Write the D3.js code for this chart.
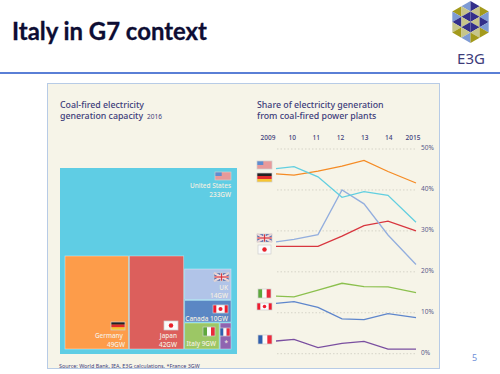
<!DOCTYPE html>
<html>
<head>
<meta charset="utf-8">
<script src="https://cdn.jsdelivr.net/npm/d3@7"></script>
<style>
  body { margin: 0; background: #fff; }
  text { font-family: "Noto Sans", sans-serif; }
</style>
</head>
<body>
<script>
// Capacity in GW, 2016
const capacityUS = 233
const capacityGermany = 49
const capacityJapan = 42
const capacityUK = 14
const capacityCanada = 10
const capacityItaly = 9
const capacityFrance = 3

// Share of generation from coal, %
const years = [2009, 2010, 2011, 2012, 2013, 2014, 2015]
const yearLabels = ['2009', '10', '11', '12', '13', '14', '2015']
const shareTicks = [0, 10, 20, 30, 40, 50]
const shareUS = [45.2, 45.7, 43.2, 38.2, 39.6, 38.7, 32.1]
const shareGermany = [43.9, 43.6, 44.6, 45.8, 47.2, 44.5, 41.7]
const shareUK = [27.3, 27.9, 29.1, 40, 36.6, 29, 21.8]
const shareJapan = [26.2, 26.2, 26.2, 28.7, 31.3, 32.4, 30]
const shareItaly = [14.05, 13.9, 15.5, 17.2, 16.4, 16.3, 14.9]
const shareCanada = [12.3, 12.7, 11.3, 8.5, 8.3, 9.8, 8.8]
const shareFrance = [3.1, 3.5, 1.5, 2.5, 3, 1.1, 1.1]

const navy = '#3d3c7a'
const svg = d3.select('body').append('svg')
    .attr('width', 500)
    .attr('height', 374)
    .style('display', 'block')

// Slide furniture
svg.append('text').attr('x', 12).attr('y', 40)
    .style('font-family', 'Lato, sans-serif')
    .style('font-size', '23.9px').style('font-weight', 700).style('fill', '#0d0d33')
    .style('stroke', '#0d0d33').style('stroke-width', 0.3)
    .text('Italy in G7 context')
svg.append('rect').attr('x', 0).attr('y', 72).attr('width', 500).attr('height', 2).style('fill', '#5a7fd6')
svg.append('rect').attr('x', 47.5).attr('y', 83.5).attr('width', 392).attr('height', 285)
    .style('fill', '#f6f4e8').style('stroke', '#b7cbe6')
svg.append('text').attr('x', 472).attr('y', 361)
    .style('font-size', '9px').style('fill', '#6f8fd8').text('5')

// E3G logo: hexagon cut into columns of small triangles
const olive = '#a39a1c', blue = '#7e9bd4', tan = '#c6c58a', dark = '#33308a'
const logoCols = [
    [olive, blue, dark, tan, olive],
    [blue, tan, dark, tan, dark, tan, blue],
    [dark, tan, dark, tan, dark, tan, olive],
    [olive, blue, dark, blue, olive],
]
const logoR = 21, logoW = logoR * Math.sqrt(3) / 4
const logo = svg.append('g').attr('transform', 'translate(470.5,22)')
logoCols.forEach((col, c) => {
    const xl = (c - 2) * logoW, xr = xl + logoW
    const mid = (col.length - 1) / 2
    // triangles alternate pointing left and right down the column
    col.forEach((fill, i) => {
        const yc = (i - mid) * logoR / 4
        const apexOnLeft = (i % 2 === 0) === (c < 2)
        const apexX = apexOnLeft ? xl : xr
        const baseX = apexOnLeft ? xr : xl
        logo.append('polygon')
            .attr('points', [[apexX, yc], [baseX, yc - logoR / 4], [baseX, yc + logoR / 4]].join(' '))
            .style('fill', fill)
    })
})
svg.append('text').attr('x', 471).attr('y', 64).attr('text-anchor', 'middle')
    .style('font-size', '15px').style('fill', '#3d3c7a').text('E3G')

// Panel headings
function heading(x, y, txt) {
    return svg.append('text').attr('x', x).attr('y', y)
        .style('font-size', '8.8px').style('font-weight', 500).style('fill', navy).text(txt)
}
heading(60, 108, 'Coal-fired electricity')
heading(60, 119, 'generation capacity')
svg.append('text').attr('x', 147).attr('y', 119).style('font-size', '6.5px').style('fill', navy).text('2016')
heading(257, 108, 'Share of electricity generation')
heading(257, 119, 'from coal-fired power plants')

// Flags, drawn inside a w x h box
function flag(x, y, w, h, kind) {
    const g = svg.append('g').attr('transform', `translate(${x},${y})`)
    const bar = (a, b, c, d, fill) => g.append('rect').attr('x', a).attr('y', b).attr('width', c).attr('height', d).style('fill', fill)
    if (kind === 'us') {
        bar(0, 0, w, h, '#e89a9a')
        bar(0, 0, w * 0.42, h * 0.5, '#5f8ccf')
    } else if (kind === 'de') {
        bar(0, 0, w, h / 3, '#222')
        bar(0, h / 3, w, h / 3, '#e22b2b')
        bar(0, 2 * h / 3, w, h / 3, '#f7c531')
    } else if (kind === 'jp') {
        bar(0, 0, w, h, '#fbfbfb')
        g.append('circle').attr('cx', w / 2).attr('cy', h / 2).attr('r', h * 0.25).style('fill', '#e8202a')
    } else if (kind === 'uk') {
        bar(0, 0, w, h, '#3d5aa8')
        g.append('path').attr('d', `M0,0L${w},${h}M${w},0L0,${h}`).style('stroke', '#f2d6d6').style('stroke-width', 2)
        bar(0, h * 0.36, w, h * 0.28, '#f4f4f4')
        bar(w * 0.42, 0, w * 0.16, h, '#f4f4f4')
        bar(0, h * 0.42, w, h * 0.16, '#d9363e')
        bar(w * 0.46, 0, w * 0.08, h, '#d9363e')
    } else if (kind === 'ca') {
        bar(0, 0, w, h, '#fbfbfb')
        bar(0, 0, w * 0.22, h, '#ee1c2e')
        bar(w * 0.78, 0, w * 0.22, h, '#ee1c2e')
        g.append('circle').attr('cx', w / 2).attr('cy', h / 2).attr('r', h * 0.25).style('fill', '#ee1c2e')
    } else {
        const c = kind === 'it' ? ['#5ea83c', '#fbfbfb', '#e8283a'] : ['#2f5fae', '#fbfbfb', '#ee2a3c']
        c.forEach((col, i) => bar(i * w / 3, 0, w / 3, h, col))
    }
    g.append('rect').attr('width', w).attr('height', h).style('fill', 'none').style('stroke', '#cfcfcf').style('stroke-width', 0.7)
}

// Treemap: the root is the US box, everything else nests inside it
const countries = {
    name: 'United States',
    children: [
        { name: 'Germany', value: capacityGermany, fill: '#fd9c4a' },
        { name: 'Japan', value: capacityJapan, fill: '#dc5f5c' },
        { name: 'rest', children: [
            { name: 'UK', value: capacityUK, fill: '#b1c4e8' },
            { name: 'Canada', value: capacityCanada, fill: '#5b87c4' },
            { name: 'low', children: [
                { name: 'Italy', value: capacityItaly, fill: '#9cc765' },
                { name: 'France', value: capacityFrance, fill: '#8f64b0' },
            ] },
        ] },
    ],
}
const root = d3.hierarchy(countries).sum(d => d.value || 0)
d3.treemap()
    .size([177, 186])
    .tile((node, x0, y0, x1, y1) => (node.depth % 2 === 0 ? d3.treemapDice : d3.treemapSlice)(node, x0, y0, x1, y1))
    .paddingInner(1)
    .paddingTop(n => n.depth === 0 ? 88 : n.data.name === 'rest' ? 13 : 0)
    .paddingBottom(n => n.depth === 0 ? 5 : 0)
    .paddingLeft(n => n.depth === 0 ? 5 : 0)
    .paddingRight(n => n.depth === 0 ? 6 : 0)(root)

const tree = svg.append('g').attr('transform', 'translate(60,168)')
tree.append('rect')
    .attr('width', root.x1 - root.x0)
    .attr('height', root.y1 - root.y0)
    .style('fill', '#5fcde4')
tree.selectAll('rect.leaf').data(root.leaves()).join('rect')
    .attr('class', 'leaf')
    .attr('x', d => d.x0)
    .attr('y', d => d.y0)
    .attr('width', d => d.x1 - d.x0)
    .attr('height', d => d.y1 - d.y0)
    .style('fill', d => d.data.fill)
    .style('stroke', 'rgba(255,255,255,0.45)')
    .style('stroke-width', 0.8)

const treeLabels = [
    ['United States', 231, 188], [capacityUS + 'GW', 231, 197],
    ['Germany', 123, 338], [capacityGermany + 'GW', 125, 347],
    ['Japan', 177, 338], [capacityJapan + 'GW', 177, 347],
    ['UK', 228, 290], [capacityUK + 'GW', 228, 298],
    ['Canada ' + capacityCanada + 'GW', 228, 321],
    ['Italy ' + capacityItaly + 'GW', 216, 346],
    ['*', 228, 345],
]
svg.selectAll('text.tree').data(treeLabels).join('text')
    .attr('class', 'tree')
    .attr('x', d => d[1])
    .attr('y', d => d[2])
    .attr('text-anchor', 'end')
    .style('font-size', '6.4px')
    .style('fill', '#f5efe2')
    .style('font-weight', 500)
    .text(d => d[0])

flag(215, 172, 16, 8, 'us')
flag(111, 322, 14, 8, 'de')
flag(164, 321, 14, 9, 'jp')
flag(214, 273, 15, 8, 'uk')
flag(213, 305, 15, 8, 'ca')
flag(203, 327, 12, 9, 'it')
flag(220, 328, 10, 8, 'fr')

// Line chart
const x = d3.scaleLinear().domain(years).range([276, 294, 318, 342, 364, 388, 416])
const xLabel = d3.scalePoint().domain(yearLabels).range([268, 413])
const y = d3.scaleLinear().domain([0, 50]).range([353.7, 149])
const line = d3.line().x((d, i) => x(years[i])).y(d => y(d))

svg.selectAll('line.grid').data(shareTicks).join('line')
    .attr('class', 'grid')
    .attr('x1', 277).attr('x2', 417)
    .attr('y1', d => y(d)).attr('y2', d => y(d))
    .style('stroke', '#d6d4c8')
    .style('stroke-dasharray', '1.5 2')

svg.selectAll('text.ytick').data(shareTicks).join('text')
    .attr('class', 'ytick')
    .attr('x', 421)
    .attr('y', d => y(d) + 1)
    .style('font-size', '6.5px')
    .style('fill', '#5c5b8a')
    .text(d => d + '%')

svg.selectAll('text.xtick').data(yearLabels).join('text')
    .attr('class', 'xtick')
    .attr('x', d => xLabel(d))
    .attr('y', 140)
    .attr('text-anchor', 'middle')
    .style('font-size', '6.5px')
    .style('font-weight', 500)
    .style('fill', navy)
    .text(d => d)

const lineSeries = [
    [shareFrance, '#7a4fa0'],
    [shareCanada, '#5e86cc'],
    [shareItaly, '#8cc04e'],
    [shareJapan, '#d8363f'],
    [shareUK, '#93aede'],
    [shareGermany, '#f58b24'],
    [shareUS, '#62cfe0'],
]
svg.selectAll('path.series').data(lineSeries).join('path')
    .attr('class', 'series')
    .attr('d', d => line(d[0]))
    .style('fill', 'none')
    .style('stroke', d => d[1])
    .style('stroke-width', 1.3)

flag(257, 161, 15, 8, 'us')
flag(257, 173, 15, 9, 'de')
flag(257, 234, 15, 8, 'uk')
flag(258, 245, 13, 9, 'jp')
flag(258, 289, 13, 9, 'it')
flag(257, 303, 15, 7, 'ca')
flag(258, 335, 14, 9, 'fr')

svg.append('text').attr('x', 59).attr('y', 368)
    .style('font-size', '5.4px').style('fill', navy)
    .text('Source: World Bank, IEA, E3G calculations.  *France 3GW')
</script>
</body>
</html>
